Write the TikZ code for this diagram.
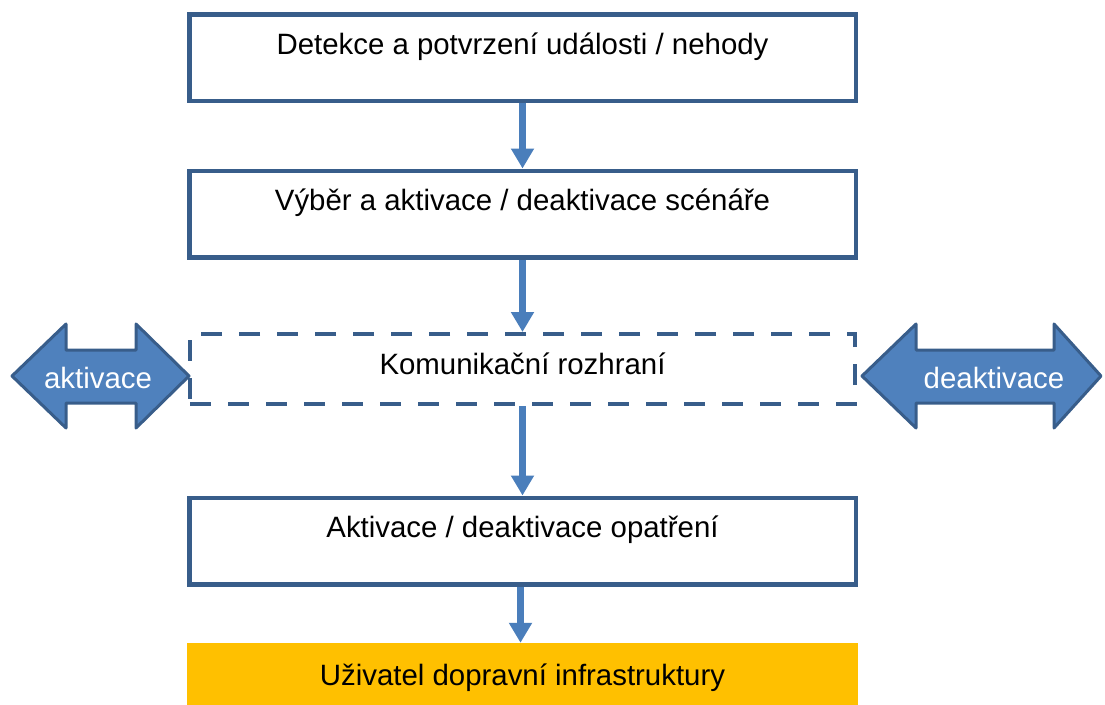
\documentclass[tikz,border=0pt]{standalone}
\usepackage{fontspec}
\setmainfont{Liberation Sans}
\usepackage{xcolor}
\usetikzlibrary{arrows.meta,positioning}
\definecolor{boxblue}{HTML}{385D8A}
\definecolor{arrowblue}{HTML}{4A7EBB}
\definecolor{shapeblue}{HTML}{4F81BD}
\definecolor{gold}{HTML}{FFC000}
\tikzset{
  stepbox/.style={draw=boxblue,line width=4.5pt,minimum width=666.5pt,minimum height=86.5pt,
    text height=21pt,text depth=28pt,font=\fontsize{29.4pt}{34pt}\selectfont},
  ifacebox/.style={draw=boxblue,line width=4pt,dash pattern=on 21pt off 17pt,
    minimum width=665pt,minimum height=70pt,text height=21pt,text depth=11pt,
    font=\fontsize{29.4pt}{34pt}\selectfont},
  userbox/.style={fill=gold,minimum width=671pt,minimum height=64pt,
    text height=21pt,text depth=0pt,font=\fontsize{29.4pt}{34pt}\selectfont},
  flow/.style={arrowblue,line width=7pt,-{Triangle[width=22pt,length=20pt]}},
  dblarrow/.style={draw=boxblue,fill=shapeblue,line width=3pt,line join=round},
  arrowtext/.style={white,font=\fontsize{29.4pt}{34pt}\selectfont}
}
\begin{document}
\begin{tikzpicture}[x=1pt,y=-1pt]
\useasboundingbox (0,0) rectangle (1105,704);
% kroky
\node[stepbox] (detekce) at (522.5,57.5) {Detekce a potvrzení události / nehody};
\node[stepbox] (vyber) at (522.5,214) {Výběr a aktivace / deaktivace scénáře};
\node[ifacebox] (rozhrani) at (522.5,369) {Komunikační rozhraní};
\node[stepbox] (opatreni) at (522.5,541) {Aktivace / deaktivace opatření};
\node[userbox] (uzivatel) at (522.5,675) {Uživatel dopravní infrastruktury};
% sipky
\draw[flow] (detekce) -- (vyber);
\draw[flow] (vyber) -- (rozhrani);
\draw[flow] (rozhrani) -- (opatreni);
\draw[flow] ([xshift=-2pt]opatreni.south) -- ([xshift=-2pt]uzivatel.north);
% aktivace / deaktivace
\draw[dblarrow] (12,376) -- (66,324) -- (66,350) -- (136,350) -- (136,324) -- (189,376)
  -- (136,428) -- (136,403) -- (66,403) -- (66,428) -- cycle;
\node[arrowtext] (aktivace) at (98,378) {aktivace};
\draw[dblarrow] (862,376) -- (916,324) -- (916,350) -- (1054,350) -- (1054,324) -- (1101,376)
  -- (1054,428) -- (1054,403) -- (916,403) -- (916,428) -- cycle;
\node[arrowtext] (deaktivace) at (994,378) {deaktivace};
\end{tikzpicture}
\end{document}
